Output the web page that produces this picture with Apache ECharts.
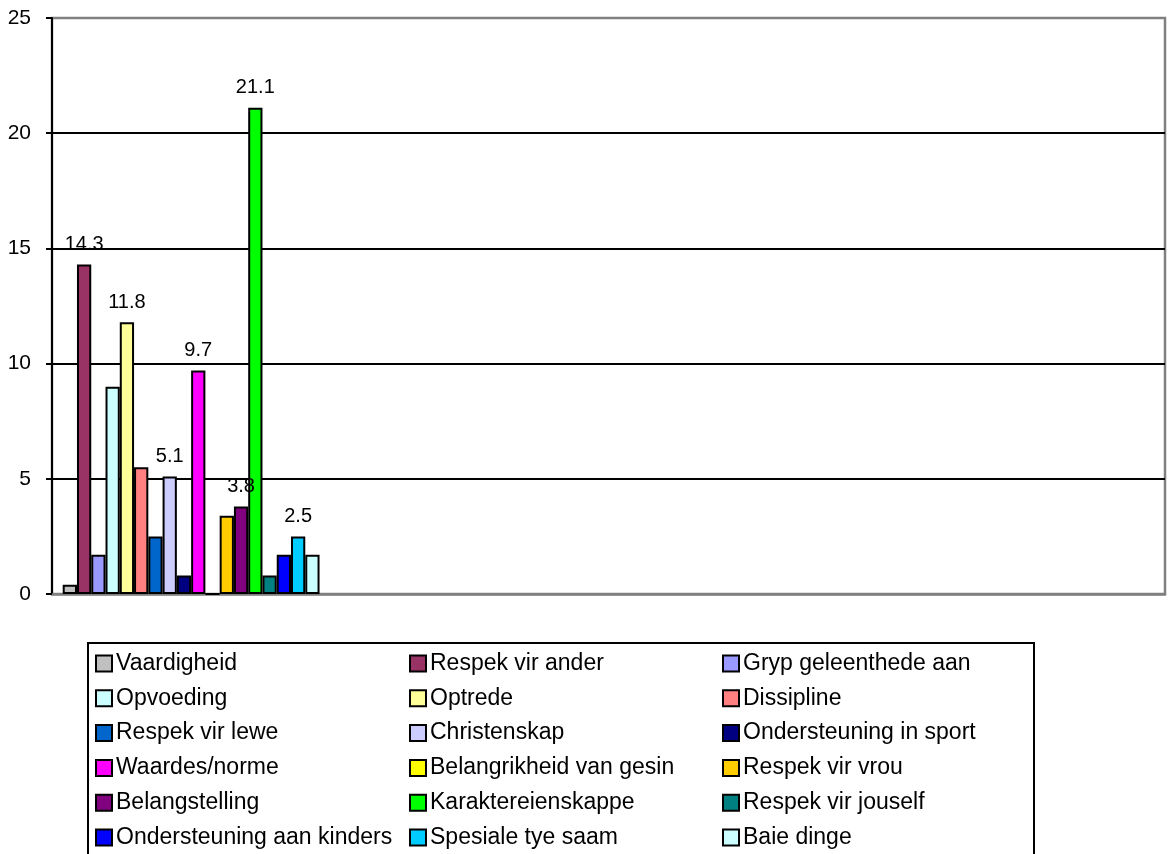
<!DOCTYPE html>
<html>
<head>
<meta charset="utf-8">
<script src="https://cdn.jsdelivr.net/npm/echarts@6/dist/echarts.min.js"></script>
<style>
html,body{margin:0;padding:0;background:#fff;}
#chart{width:1170px;height:854px;}
</style>
</head>
<body>
<div id="chart"></div>
<script>
// Data
var categories = ['', '', '', ''];
var seriesNames = [
  'Vaardigheid', 'Respek vir ander', 'Gryp geleenthede aan', 'Opvoeding', 'Optrede', 'Dissipline',
  'Respek vir lewe', 'Christenskap', 'Ondersteuning in sport', 'Waardes/norme', 'Belangrikheid van gesin',
  'Respek vir vrou', 'Belangstelling', 'Karaktereienskappe', 'Respek vir jouself', 'Ondersteuning aan kinders',
  'Spesiale tye saam', 'Baie dinge'
];
var seriesValues = [0.4, 14.3, 1.7, 9.0, 11.8, 5.5, 2.5, 5.1, 0.8, 9.7, 0, 3.4, 3.8, 21.1, 0.8, 1.7, 2.5, 1.7];
var labelledSeries = ['Respek vir ander', 'Optrede', 'Christenskap', 'Waardes/norme', 'Belangstelling', 'Karaktereienskappe', 'Spesiale tye saam'];
var seriesColors = [
  '#C0C0C0', '#993366', '#9999FF', '#CCFFFF', '#FFFF99', '#FF8080',
  '#0066CC', '#CCCCFF', '#000080', '#FF00FF', '#FFFF00',
  '#FFCC00', '#800080', '#00FF00', '#008080', '#0000FF',
  '#00CCFF', '#CCFFFF'
];
var yTicks = [0, 5, 10, 15, 20, 25];
var legendCol1 = ['Vaardigheid', 'Opvoeding', 'Respek vir lewe', 'Waardes/norme', 'Belangstelling', 'Ondersteuning aan kinders'];
var legendCol2 = ['Respek vir ander', 'Optrede', 'Christenskap', 'Belangrikheid van gesin', 'Karaktereienskappe', 'Spesiale tye saam'];
var legendCol3 = ['Gryp geleenthede aan', 'Dissipline', 'Ondersteuning in sport', 'Respek vir vrou', 'Respek vir jouself', 'Baie dinge'];

var FONT = '"Liberation Sans", Arial, sans-serif';

var series = seriesNames.map(function (name, i) {
  return {
    name: name,
    type: 'bar',
    data: [seriesValues[i]],
    barGap: '0%',
    barCategoryGap: '7.7%',
    itemStyle: { color: seriesColors[i], borderColor: '#000', borderWidth: 2 },
    label: {
      show: labelledSeries.indexOf(name) >= 0,
      position: 'top',
      distance: 10,
      color: '#000',
      fontFamily: FONT,
      fontSize: 20,
      formatter: function (p) { return p.value.toFixed(1); }
    }
  };
});

function legendCol(data, left) {
  return {
    data: data,
    orient: 'vertical',
    left: left,
    top: 652,
    height: 240,
    padding: 0,
    itemGap: 11.8,
    itemWidth: 16,
    itemHeight: 16,
    icon: 'rect',
    selectedMode: false,
    itemStyle: { borderColor: '#000', borderWidth: 2 },
    textStyle: { fontFamily: FONT, fontSize: 23, color: '#000', lineHeight: 20, padding: [0, 0, 0, -1] }
  };
}

var chart = echarts.init(document.getElementById('chart'), null, { renderer: 'canvas' });
chart.setOption({
  animation: false,
  backgroundColor: '#fff',
  grid: { left: 52, right: 5, top: 18, bottom: 260, show: true, borderColor: '#808080', borderWidth: 2.5 },
  xAxis: {
    type: 'category',
    data: categories,
    axisLine: { show: true, lineStyle: { color: '#808080', width: 2.5 } },
    axisTick: { show: false },
    axisLabel: { show: false }
  },
  yAxis: {
    type: 'value',
    min: yTicks[0],
    max: yTicks[yTicks.length - 1],
    interval: 5,
    axisLine: { show: true, lineStyle: { color: '#000', width: 2 } },
    axisTick: { show: true, length: 6, lineStyle: { color: '#000', width: 2 } },
    axisLabel: { color: '#000', fontFamily: FONT, fontSize: 21, margin: 21 },
    splitLine: { show: true, showMaxLine: false, showMinLine: false, lineStyle: { color: '#000', width: 2 } }
  },
  legend: [legendCol(legendCol1, 95), legendCol(legendCol2, 409), legendCol(legendCol3, 722)],
  graphic: [{
    type: 'rect',
    shape: { x: 88, y: 643, width: 946, height: 240 },
    style: { fill: 'none', stroke: '#000', lineWidth: 2 },
    silent: true,
    z: -1
  }],
  series: series
});
</script>
</body>
</html>
